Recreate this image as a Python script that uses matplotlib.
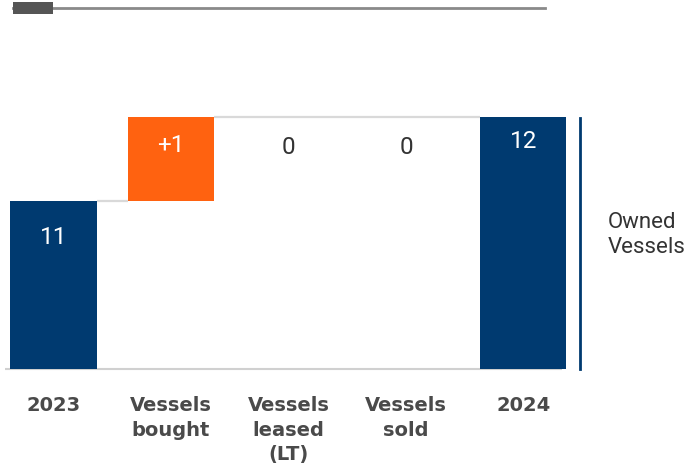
import matplotlib
matplotlib.use("Agg")
import matplotlib.pyplot as plt
from matplotlib.patches import Rectangle
from matplotlib.lines import Line2D

# Fleet bridge: owned vessels 2023 -> 2024
categories = ["2023", "Vessels\nbought", "Vessels\nleased\n(LT)", "Vessels\nsold", "2024"]
start_total = 11
changes = [1, 0, 0]
end_total = 12
change_labels = ["+1", "0", "0"]
axis_floor = 9

W, H = 687, 468
DPI = 100
NAVY = "#003A70"
ORANGE = "#FF6210"
CONNECT = "#d9d9d9"
LABEL_GREY = "#4a4a4a"

fig = plt.figure(figsize=(W / DPI, H / DPI), dpi=DPI)


def fx(px):
    return px / W


def fy(py):
    return 1 - py / H


# axes placement in pixel space
ax_left, ax_right = 5, 566
ax_bottom, ax_top = 369, 100
ax = fig.add_axes([fx(ax_left), fy(ax_bottom), fx(ax_right) - fx(ax_left), fy(ax_top) - fy(ax_bottom)])

step_px = 117.5
first_center_px = 53.5
x0 = (ax_left - first_center_px) / step_px
x1 = (ax_right - first_center_px) / step_px
ax.set_xlim(x0, x1)
px_per_unit = 84.0
ax.set_ylim(axis_floor, axis_floor + (ax_bottom - ax_top) / px_per_unit)
ax.axis("off")

width = 0.74
xs = list(range(len(categories)))

# bars
bottoms, heights, colors = [], [], []
bottoms.append(axis_floor); heights.append(start_total - axis_floor); colors.append(NAVY)
level = start_total
levels = [start_total]
for d in changes:
    bottoms.append(level if d >= 0 else level + d)
    heights.append(abs(d))
    colors.append(ORANGE)
    level += d
    levels.append(level)
bottoms.append(axis_floor); heights.append(end_total - axis_floor); colors.append(NAVY)
levels.append(end_total)

ax.bar(xs, heights, bottom=bottoms, width=width, color=colors, linewidth=0, zorder=3)

# connectors between consecutive visible bars
visible = [i for i, h in enumerate(heights) if h > 0]
for a, b in zip(visible[:-1], visible[1:]):
    ax.plot([xs[a] + width / 2, xs[b] - width / 2], [levels[a], levels[a]],
            color=CONNECT, lw=1.6, zorder=2, solid_capstyle="butt")

# baseline
ax.plot([x0, (562 - first_center_px) / step_px], [axis_floor, axis_floor],
        color="#d0d0d0", lw=1.5, zorder=1, clip_on=False, solid_capstyle="butt")

# value labels
val_font = dict(family=["Roboto", "DejaVu Sans"], fontsize=17.5, ha="center", va="center")
px2u = 1 / px_per_unit
ax.text(xs[0], start_total - 37 * px2u, str(start_total), color="white", **val_font)
for i, (d, lab) in enumerate(zip(changes, change_labels), start=1):
    top = levels[i] if d >= 0 else levels[i - 1]
    if d != 0:
        ax.text(xs[i], top - 28 * px2u, lab, color="white", **val_font)
    else:
        ax.text(xs[i], top - 30 * px2u, lab, color="#333333", **val_font)
ax.text(xs[-1], end_total - 25 * px2u, str(end_total), color="white", **val_font)

# category labels
for x, c in zip(xs, categories):
    ax.text(x, axis_floor - 27 * px2u, c, ha="center", va="top",
            fontsize=14, fontweight="bold", color=LABEL_GREY,
            family=["DejaVu Sans"], linespacing=1.38)

# bracket and legend text
fig.add_artist(Line2D([fx(580), fx(580)], [fy(118), fy(369)], color=NAVY, lw=2))
fig.text(fx(608), fy(235), "Owned\nVessels", ha="left", va="center",
         fontsize=16, color="#333333", family=["Roboto", "DejaVu Sans"], linespacing=1.3)

# header rule
fig.add_artist(Line2D([fx(13), fx(545)], [fy(7.5), fy(7.5)], color="#8a8a8a", lw=2))
rect = Rectangle((fx(13), fy(14)), fx(53) - fx(13), fy(2) - fy(14),
                 facecolor="#555555", lw=0, zorder=5)
fig.add_artist(rect)

fig.savefig("out.png", dpi=DPI)
